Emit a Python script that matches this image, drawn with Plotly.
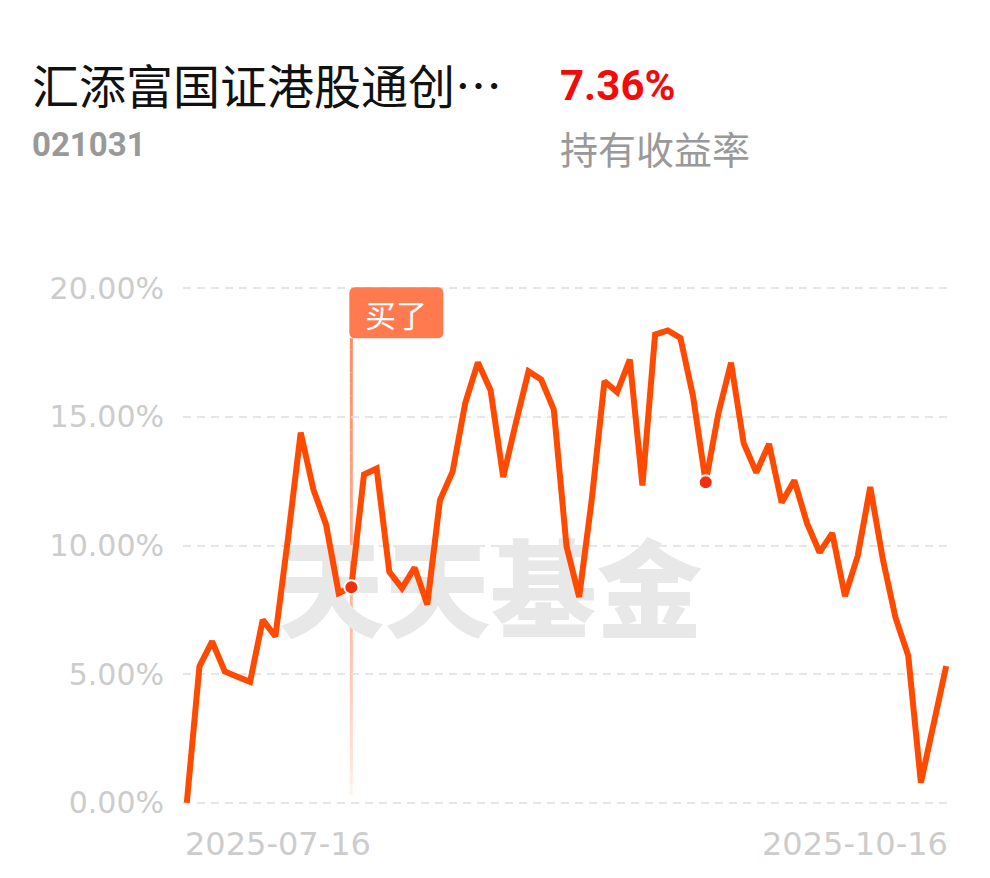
import plotly.graph_objects as go

# trading days shown on the chart
dates = (
    ["2025-07-%02d" % d for d in [16, 17, 18, 21, 22, 23, 24, 25, 28, 29, 30, 31]]
    + ["2025-08-%02d" % d for d in [1, 4, 5, 6, 7, 8, 11, 12, 13, 14, 15, 18, 19, 20, 21, 22, 25, 26, 27, 28, 29]]
    + ["2025-09-%02d" % d for d in [1, 2, 3, 4, 5, 8, 9, 10, 11, 12, 15, 16, 17, 18, 19, 22, 23, 24, 25, 26, 29, 30]]
    + ["2025-10-%02d" % d for d in [9, 10, 13, 14, 15, 16]]
)

# holding return, %
returns = [
    0.00, 5.30, 6.27, 5.10, 4.90, 4.70, 7.11, 6.47, 10.30, 14.39,
    12.18, 10.82, 8.15, 8.38, 12.76, 12.99, 8.98, 8.34, 9.14, 7.71,
    11.76, 12.87, 15.54, 17.12, 16.04, 12.66, 14.77, 16.77, 16.45, 15.28,
    9.97, 8.00, 11.80, 16.39, 15.96, 17.23, 12.33, 18.20, 18.36, 18.07,
    15.80, 12.46, 15.14, 17.11, 13.98, 12.84, 13.95, 11.67, 12.53, 10.87,
    9.73, 10.48, 8.03, 9.58, 12.27, 9.45, 7.18, 5.72, 0.78, 3.04, 5.31,
]

y_ticks = [0, 5, 10, 15, 20]
y_tick_labels = ["0.00%", "5.00%", "10.00%", "15.00%", "20.00%"]

buy_date = "2025-08-04"
dot_dates = ["2025-08-04", "2025-09-11"]
dot_values = [returns[dates.index(d)] for d in dot_dates]

fund_name = "汇添富国证港股通创…"
fund_code = "021031"
hold_return = "7.36%"
hold_label = "持有收益率"

LINE = "#FF4A00"
GREY = "#CCCCCC"
W, H = 990, 878
ML, MR, MT, MB = 183, 40, 278, 65

fig = go.Figure()

# watermark, drawn first so the line sits on top
fig.add_trace(go.Scatter(
    x=[dates[24]], y=[7.8], mode="text", text=["天天基金"],
    textfont=dict(size=106, color="#E8E8E8", family="Noto Sans CJK SC", weight=900),
    hoverinfo="skip", showlegend=False,
))

fig.add_trace(go.Scatter(
    x=dates, y=returns, mode="lines",
    line=dict(color=LINE, width=6, shape="linear"),
    showlegend=False,
))

fig.add_trace(go.Scatter(
    x=dot_dates, y=dot_values, mode="markers",
    marker=dict(size=14, color="#F2300E", line=dict(color="white", width=2)),
    showlegend=False,
))

# buy marker: fading vertical line
top, bottom, n = 18.06, 0.3, 40
for i in range(n):
    y0 = bottom + (top - bottom) * i / n
    y1 = bottom + (top - bottom) * (i + 1) / n
    t = (i + 0.5) / n
    a = 0.03 + 0.85 * t ** 0.6
    fig.add_shape(type="line", x0=buy_date, x1=buy_date, y0=y0, y1=y1,
                  xref="x", yref="y", layer="below",
                  line=dict(color="rgba(255,122,80,%.3f)" % a, width=3))

# "买了" tag
fig.add_shape(type="path", xref="x", yref="y",
              xsizemode="pixel", ysizemode="pixel",
              xanchor=buy_date, yanchor=20,
              path="M 4,1 L 86,1 Q 92,1 92,-5 L 92,-44 Q 92,-50 86,-50 L 4,-50 Q -2,-50 -2,-44 L -2,-5 Q -2,1 4,1 Z",
              fillcolor="#FF7B4F", line=dict(width=0))
fig.add_annotation(x=buy_date, y=20, text="买了", showarrow=False,
                   xanchor="center", yanchor="middle", xshift=45, yshift=-25,
                   font=dict(size=31, color="white", family="Noto Sans CJK SC"))


def px_x(v):
    return (v - ML) / (W - ML - MR)


def px_y(v):
    return (H - MB - v) / (H - MT - MB)


# header
fig.add_annotation(x=px_x(30), y=px_y(83), xref="paper", yref="paper", text=fund_name,
                   showarrow=False, xanchor="left", yanchor="middle",
                   font=dict(size=47, color="#111111", family="Noto Sans CJK SC"))
fig.add_annotation(x=px_x(30), y=px_y(145), xref="paper", yref="paper", text="<b>%s</b>" % fund_code,
                   showarrow=False, xanchor="left", yanchor="middle",
                   font=dict(size=33, color="#999999", family="Roboto"))
fig.add_annotation(x=px_x(558), y=px_y(86), xref="paper", yref="paper", text="<b>%s</b>" % hold_return,
                   showarrow=False, xanchor="left", yanchor="middle",
                   font=dict(size=42, color="#F50A0A", family="Roboto"))
fig.add_annotation(x=px_x(558), y=px_y(148), xref="paper", yref="paper", text=hold_label,
                   showarrow=False, xanchor="left", yanchor="middle",
                   font=dict(size=38, color="#999999", family="Noto Sans CJK SC"))

# date labels at both ends
fig.add_annotation(x=dates[0], y=0, yref="y", text=dates[0], showarrow=False,
                   xanchor="left", yanchor="top", yshift=-20, xshift=-4,
                   font=dict(size=32, color=GREY, family="DejaVu Sans"))
fig.add_annotation(x=dates[-1], y=0, yref="y", text=dates[-1], showarrow=False,
                   xanchor="right", yanchor="top", yshift=-20, xshift=4,
                   font=dict(size=32, color=GREY, family="DejaVu Sans"))

fig.update_xaxes(type="category", categoryorder="array", categoryarray=dates,
                 range=[-0.3, len(dates) - 0.7],
                 showticklabels=False, showgrid=False, zeroline=False, showline=False,
                 ticks="")
fig.update_yaxes(range=[-0.4, 20.4], tickvals=y_ticks, ticktext=y_tick_labels,
                 showgrid=True, gridcolor="#E6E6E6", griddash="8px,6px", gridwidth=2,
                 zeroline=False, showline=False, ticks="", ticklabelstandoff=18,
                 tickfont=dict(size=30, color=GREY, family="DejaVu Sans"))

fig.update_layout(
    width=W, height=H,
    margin=dict(l=ML, r=MR, t=MT, b=MB),
    paper_bgcolor="white", plot_bgcolor="white",
    showlegend=False,
)

fig.write_html("out.html", config={"displayModeBar": False},
               post_script="document.body.style.margin='0';document.body.style.overflow='hidden';")
